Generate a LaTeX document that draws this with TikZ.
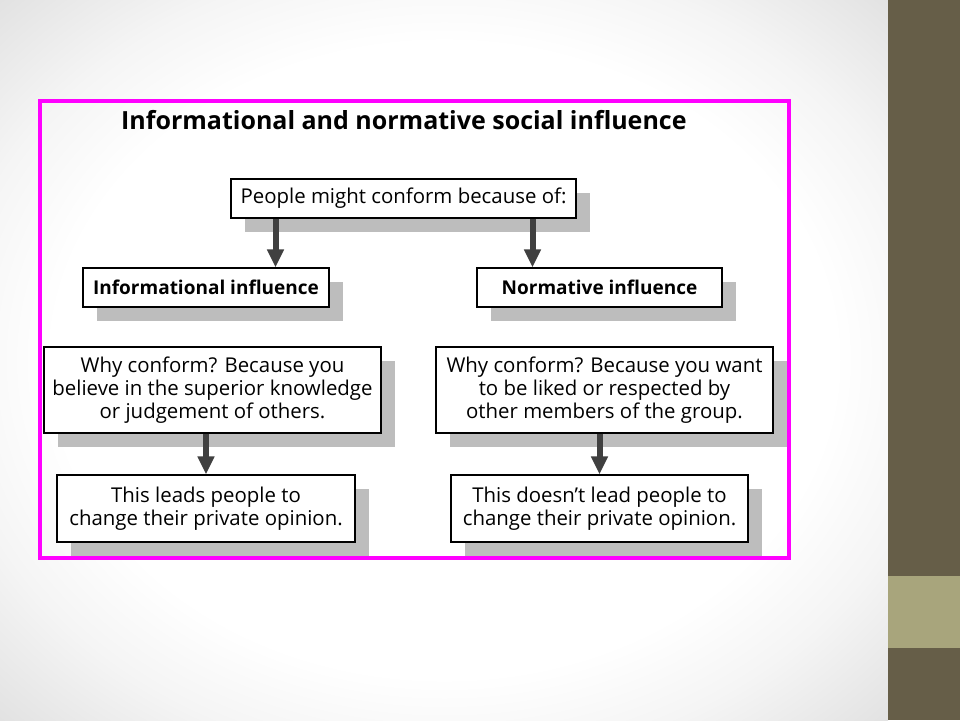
\documentclass[tikz,border=0pt]{standalone}
\usepackage{fontspec}
\setmainfont{Open Sans}
\usetikzlibrary{shadows,arrows.meta}
\pgfdeclareradialshading{vignette}{\pgfpoint{0bp}{0bp}}{color(0bp)=(white); color(22bp)=(white); color(28bp)=(black!4); color(36bp)=(black!12); color(50bp)=(black!12)}
\definecolor{barbrown}{RGB}{102,94,72}
\definecolor{barband}{RGB}{168,165,124}
\definecolor{arrowgray}{RGB}{64,64,64}
\definecolor{framepink}{RGB}{255,0,255}

\begin{document}
\begin{tikzpicture}[x=1pt, y=-1pt]

\tikzstyle{box} = [rectangle, draw=black, line width=1.3pt, fill=white, inner sep=0pt, align=center, font=\fontsize{20.4}{23}\selectfont, drop shadow={shadow xshift=14pt, shadow yshift=-14pt, fill=black!26, opacity=1}]
\tikzstyle{link} = [draw=arrowgray, line width=6pt, -{Triangle[length=18pt, width=16pt]}]

\useasboundingbox (0,0) rectangle (960,720);
\shade[shading=vignette] (0,0) rectangle (888,720);
\fill[barbrown] (888,0) rectangle (960,720);
\fill[barband] (888,576) rectangle (960,648);
\draw[framepink, line width=4pt] (40,101) rectangle (789,558);

\node[font=\bfseries\fontsize{25}{30}\selectfont, anchor=base west, inner sep=0pt] (t) at (121,129) {Informational and normative social influence};

\node[box, minimum width=345pt, minimum height=39pt] (p) at (403.5,198.5) {People might conform because of:};

\node[box, font=\bfseries\fontsize{19}{23}\selectfont, minimum width=246pt, minimum height=39pt] (i) at (206,287.5) {Informational influence};
\node[box, font=\bfseries\fontsize{19}{23}\selectfont, minimum width=245pt, minimum height=39pt] (n) at (599.5,287.5) {Normative influence};

\node[box, minimum width=337pt, minimum height=86pt] (wi) at (212.5,390) {Why conform? Because you\\believe in the superior knowledge\\or judgement of others.};
\node[box, minimum width=337pt, minimum height=86pt] (wn) at (604.5,390) {Why conform? Because you want\\to be liked or respected by\\other members of the group.};

\node[box, minimum width=298pt, minimum height=67pt] (ci) at (206,508.5) {This leads people to\\change their private opinion.};
\node[box, minimum width=297pt, minimum height=67pt] (cn) at (599.5,508.5) {This doesn’t lead people to\\change their private opinion.};

\coordinate (pl) at ([xshift=-128pt]p.south);
\coordinate (pr) at ([xshift=129pt]p.south);

\draw[link] (pl) -- (pl |- i.north);
\draw[link] (pr) -- (pr |- n.north);
\draw[link] (ci.north |- wi.south) -- (ci.north);
\draw[link] (cn.north |- wn.south) -- (cn.north);

\end{tikzpicture}
\end{document}
